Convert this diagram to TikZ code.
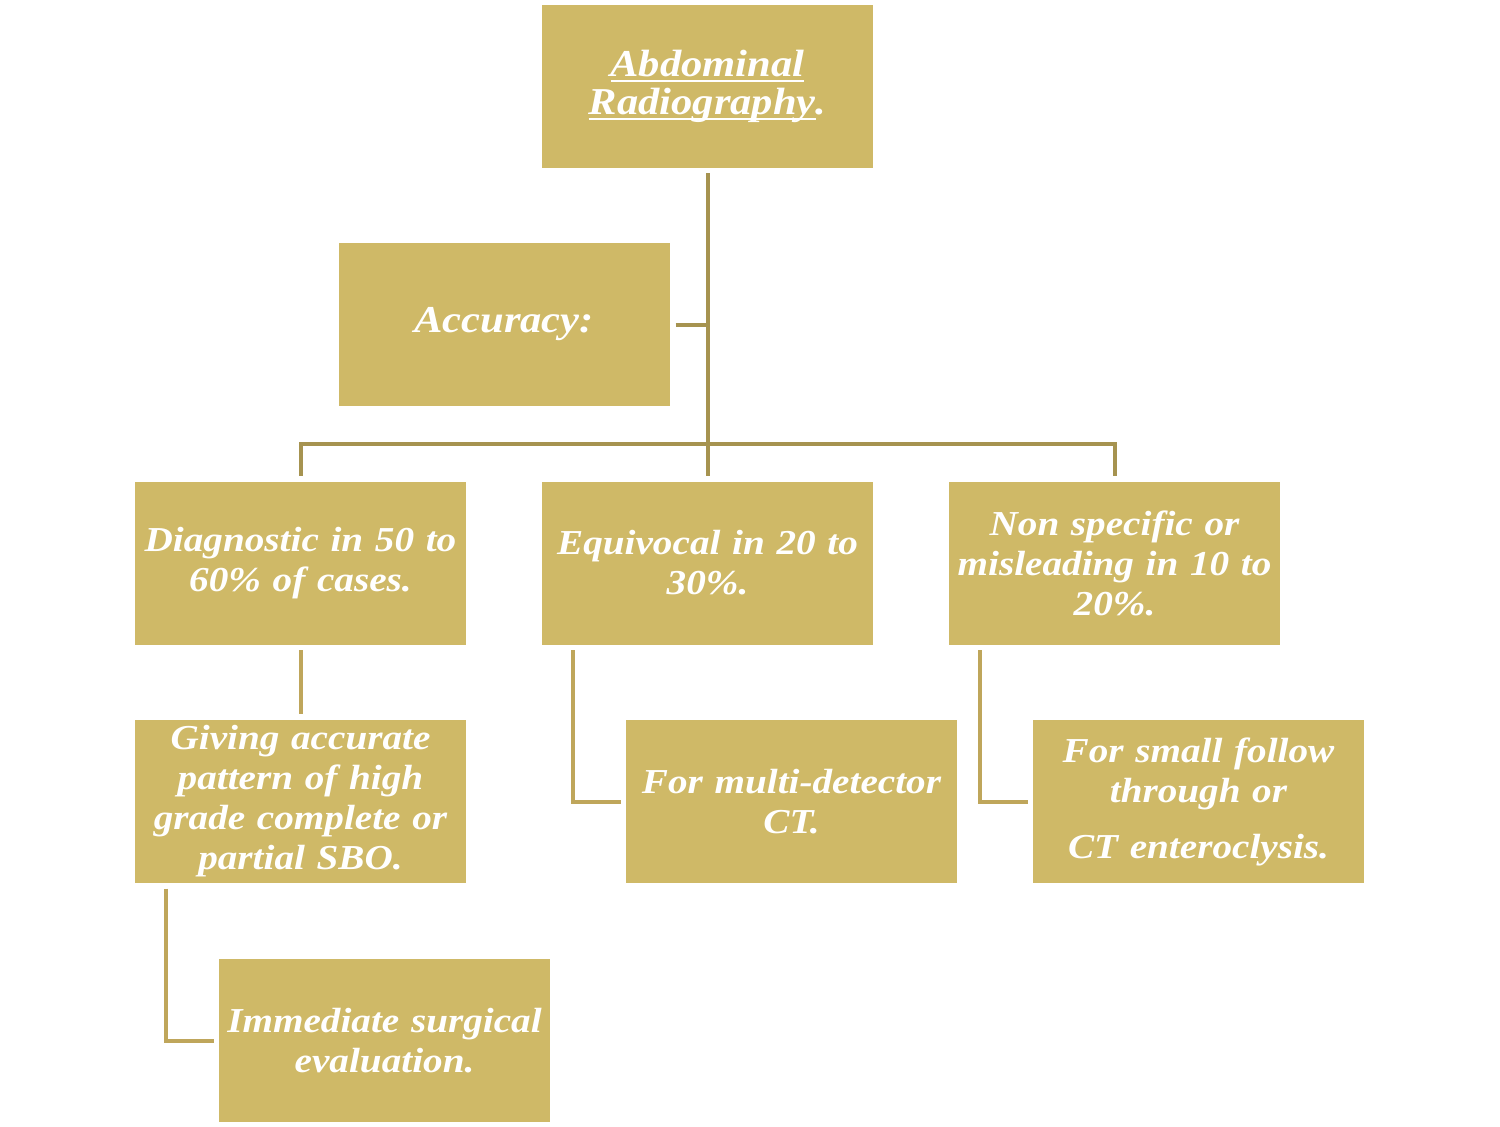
\documentclass[tikz,border=0pt]{standalone}
\usepackage{fontspec}
\setmainfont[FakeStretch=1.12]{Liberation Serif}
\newcommand{\ulword}[1]{\leavevmode\setbox0\hbox{#1}\rlap{\rule[-6pt]{\wd0}{2.5pt}}\box0}
\definecolor{boxfill}{HTML}{CFB967}
\definecolor{linedark}{HTML}{A69350}
\definecolor{linelight}{HTML}{BFA65B}
\begin{document}
\begin{tikzpicture}[x=1pt,y=-1pt,
  box/.style={fill=boxfill, draw=none, minimum width=331pt, minimum height=163pt,
    inner sep=0pt, text=white, align=center, text width=327pt,
    font=\fontsize{35}{40}\selectfont\bfseries\itshape},
  bigtext/.style={font=\fontsize{38}{38}\selectfont\bfseries\itshape},
  mainline/.style={draw=linedark, line width=4pt},
  subline/.style={draw=linelight, line width=4pt}]
\useasboundingbox (0,0) rectangle (1500,1127);

\node[box,bigtext] (top) at (707.5,86) {\ulword{Abdominal}\\\ulword{Radiography}.};
\node[box,bigtext] (acc) at (504,324.5) {Accuracy:};
\node[box] (d) at (300.5,563) {Diagnostic in 50 to\\60\% of cases.};
\node[box] (e) at (707.5,563) {Equivocal in 20 to\\30\%.};
\node[box] (n) at (1114.5,563) {Non specific or\\misleading in 10 to\\20\%.};
\node[box] (g) at (300.5,801.5) {Giving accurate\\pattern of high\\grade complete or\\partial SBO.};
\node[box] (m) at (791.5,801.5) {For multi-detector\\CT.};
\node[box] (s) at (1198.5,801.5) {For small follow\\through or\\[16pt]CT enteroclysis.};
\node[box] (i) at (384.5,1040.5) {Immediate surgical\\evaluation.};

\coordinate (bus) at (707.5,444);
\draw[mainline] ([yshift=-5.5pt]top.south) -- ([yshift=5.5pt]e.north);
\draw[mainline] ([xshift=6pt]acc.east) -- (acc.east -| top.south);
\draw[mainline] ([yshift=5.5pt]d.north) -- (d.north |- bus) -- (n.north |- bus) -- ([yshift=5.5pt]n.north);

\draw[subline] ([yshift=-5.5pt]d.south) -- ([yshift=5.5pt]g.north);
\draw[subline] ([xshift=-135pt,yshift=-5.5pt]e.south) |- ([xshift=-5pt]m.west);
\draw[subline] ([xshift=-135pt,yshift=-5.5pt]n.south) |- ([xshift=-5pt]s.west);
\draw[subline] ([xshift=-135pt,yshift=-5.5pt]g.south) |- ([xshift=-5pt]i.west);
\end{tikzpicture}
\end{document}
